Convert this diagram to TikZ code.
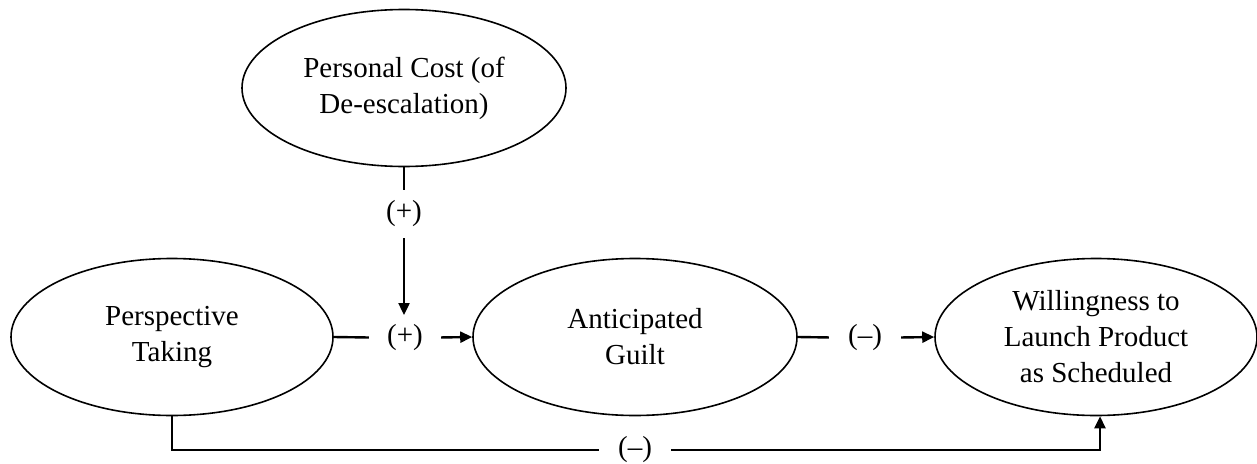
\documentclass[tikz,border=0pt]{standalone}
\usepackage{fontspec}
\setmainfont{Liberation Serif}
\usetikzlibrary{shapes.geometric,arrows.meta}
\begin{document}
\begin{tikzpicture}[x=1pt,y=-1pt,
  construct/.style={ellipse,draw,line width=1.6pt,inner sep=0pt,
    minimum width=322pt,minimum height=157pt,align=center,
    font=\fontsize{29}{36}\selectfont},
  sign/.style={inner sep=0pt,font=\fontsize{29}{36}\selectfont},
  hsign/.style={sign,minimum width=72pt,minimum height=30pt},
  vsign/.style={sign,minimum width=30pt,minimum height=48pt},
  link/.style={line width=2.4pt},
  arrowlink/.style={link,-{Triangle[length=12pt,width=11pt]}}]
\useasboundingbox (0,0) rectangle (1257,463);

% constructs
\node[construct,minimum width=324pt] (pc) at (404,88) {Personal Cost (of\\De-escalation)};
\node[construct] (pt) at (172,337) {Perspective\\Taking};
\node[construct,minimum width=324pt] (ag) at (635,337) {Anticipated\\Guilt};
\node[construct] (wl) at (1096,337) {Willingness to\\Launch Product\\as Scheduled};

% signs on the paths
\node[vsign] (smod) at (404,214) {(+)};
\node[hsign] (sa) at (405,338) {(+)};
\node[hsign] (sb) at (865,338) {(–)};
\node[hsign] (sc) at (635,450) {(–)};
\coordinate (modtip) at (404,315);

% moderation path
\draw[link] (pc.south) -- (smod);
\draw[arrowlink] (smod) -- (modtip);

% mediation paths
\draw[link] (pt.east) -- (sa);
\draw[arrowlink] (sa) -- (ag.west);
\draw[link] (ag.east) -- (sb);
\draw[arrowlink] (sb) -- (wl.west);

% direct path
\draw[link] (pt.south) |- (sc);
\draw[arrowlink] (sc) -| ([xshift=4pt]wl.south);
\end{tikzpicture}
\end{document}
